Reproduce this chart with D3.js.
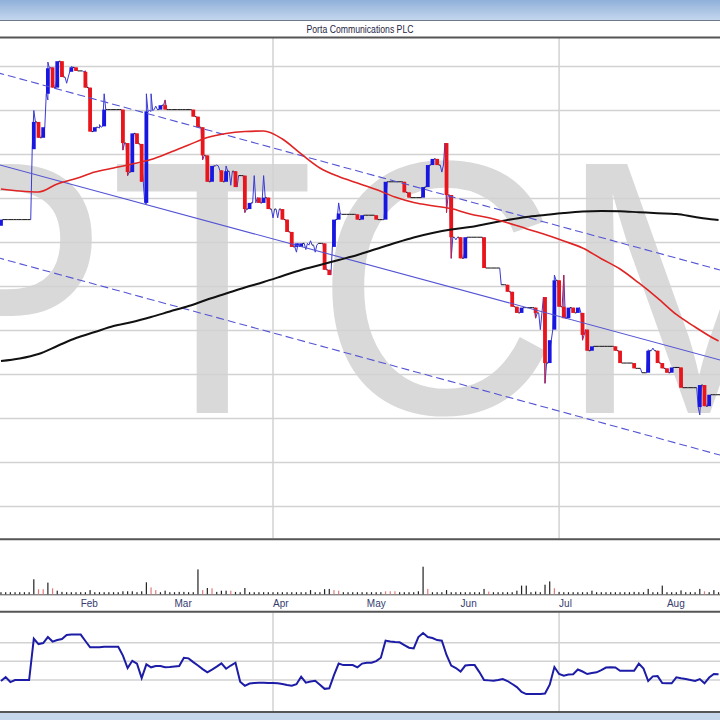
<!DOCTYPE html>
<html>
<head>
<meta charset="utf-8">
<title>Porta Communications PLC</title>
<script src="https://cdn.jsdelivr.net/npm/d3@7"></script>
<style>
  html, body { margin: 0; padding: 0; background: #fff; }
  svg { display: block; }
</style>
</head>
<body>
<div id="chart"></div>
<script>
// values: prices in pence, volume in millions, one entry per trading day
const title = 'Porta Communications PLC';
const ticker = 'PTCM';

const months = ['Feb', 'Mar', 'Apr', 'May', 'Jun', 'Jul', 'Aug'];
const monthStart = [17, 37, 58, 78, 98, 119, 142];
const quarterStart = [58, 119];

const open = [
  8.69, 8.76, 8.76, 8.76, 8.76, 8.76, 8.76, 9.56, 9.87, 9.69,
  10.19, 10.49, 10.26, 10.56, 10.38, 10.44, 10.49, 10.45, 10.44, 10.26,
  9.76, 9.81, 9.82, 10.01, 10.01, 10.01, 10.01, 9.63, 9.30, 9.74,
  9.62, 8.95, 10.00, 10.01, 10.01, 10.06, 10.01, 10.01, 10.01, 10.01,
  10.01, 10.01, 9.93, 9.81, 9.49, 9.19, 9.37, 9.32, 9.19, 9.31,
  9.31, 9.26, 9.26, 8.88, 8.95, 9.01, 8.95, 9.01, 8.88, 8.88,
  8.88, 8.76, 8.62, 8.45, 8.45, 8.49, 8.47, 8.47, 8.49, 8.49,
  8.19, 8.45, 8.76, 8.82, 8.82, 8.82, 8.82, 8.76, 8.81, 8.81,
  8.81, 8.76, 8.76, 9.19, 9.19, 9.19, 9.19, 9.07, 9.01, 9.01,
  9.01, 9.13, 9.38, 9.45, 9.38, 9.63, 9.04, 8.56, 8.56, 8.32,
  8.56, 8.56, 8.56, 8.56, 8.21, 8.21, 8.21, 8.02, 8.02, 7.94,
  7.77, 7.70, 7.76, 7.76, 7.76, 7.70, 7.88, 7.13, 7.51, 8.07,
  7.77, 7.64, 7.76, 7.70, 7.70, 7.51, 7.27, 7.32, 7.32, 7.32,
  7.32, 7.32, 7.27, 7.13, 7.13, 7.13, 7.07, 7.02, 7.02, 7.27,
  7.27, 7.13, 7.07, 7.02, 7.08, 7.08, 6.85, 6.85, 6.85, 6.63,
  6.88, 6.64, 6.77, 6.77
];
const high = [
  8.76, 8.76, 8.76, 8.76, 8.76, 8.76, 8.76, 10.00, 9.87, 9.81,
  10.55, 10.49, 10.56, 10.56, 10.38, 10.50, 10.49, 10.45, 10.45, 10.26,
  9.81, 9.84, 10.19, 10.01, 10.01, 10.01, 10.01, 9.63, 9.74, 9.74,
  9.62, 10.19, 10.19, 10.05, 10.06, 10.12, 10.01, 10.01, 10.01, 10.01,
  10.01, 10.01, 9.93, 9.81, 9.49, 9.37, 9.38, 9.32, 9.37, 9.31,
  9.31, 9.26, 9.26, 8.95, 9.26, 9.01, 9.26, 9.01, 8.88, 8.88,
  8.88, 8.76, 8.62, 8.49, 8.49, 8.49, 8.52, 8.47, 8.49, 8.49,
  8.19, 8.76, 8.95, 8.82, 8.82, 8.82, 8.82, 8.81, 8.81, 8.81,
  8.81, 8.76, 9.19, 9.19, 9.19, 9.19, 9.19, 9.07, 9.01, 9.01,
  9.13, 9.38, 9.45, 9.45, 9.38, 9.63, 9.04, 8.56, 8.56, 8.56,
  8.56, 8.56, 8.56, 8.56, 8.21, 8.21, 8.21, 8.02, 8.02, 7.94,
  7.77, 7.76, 7.76, 7.76, 7.76, 7.70, 7.88, 7.39, 8.13, 8.07,
  8.13, 7.76, 7.76, 7.76, 7.70, 7.51, 7.32, 7.32, 7.32, 7.32,
  7.32, 7.32, 7.27, 7.13, 7.13, 7.13, 7.07, 7.02, 7.28, 7.30,
  7.27, 7.13, 7.07, 7.08, 7.08, 7.08, 6.85, 6.85, 6.85, 6.88,
  6.88, 6.77, 6.77, 6.77
];
const low = [
  8.69, 8.76, 8.76, 8.76, 8.76, 8.76, 8.76, 9.56, 9.69, 9.69,
  10.12, 10.26, 10.26, 10.38, 10.31, 10.44, 10.45, 10.45, 10.26, 9.76,
  9.76, 9.80, 9.82, 10.01, 10.01, 10.01, 9.55, 9.26, 9.30, 9.62,
  9.19, 8.94, 9.99, 10.01, 10.01, 10.01, 10.01, 10.01, 10.01, 10.01,
  10.01, 9.93, 9.81, 9.44, 9.19, 9.19, 9.37, 9.19, 9.19, 9.15,
  9.13, 9.26, 8.84, 8.88, 8.95, 8.95, 8.95, 8.88, 8.78, 8.78,
  8.76, 8.62, 8.45, 8.39, 8.45, 8.42, 8.47, 8.39, 8.49, 8.19,
  8.13, 8.45, 8.76, 8.82, 8.82, 8.82, 8.76, 8.76, 8.81, 8.81,
  8.76, 8.76, 8.76, 9.19, 9.19, 9.19, 9.07, 9.01, 9.01, 9.01,
  9.01, 9.13, 9.38, 9.38, 9.30, 8.84, 8.32, 8.53, 8.32, 8.32,
  8.56, 8.56, 8.56, 8.21, 8.21, 8.21, 8.21, 8.02, 7.94, 7.77,
  7.70, 7.70, 7.76, 7.76, 7.64, 7.51, 6.90, 7.13, 7.51, 7.77,
  7.64, 7.64, 7.70, 7.70, 7.39, 7.27, 7.27, 7.32, 7.32, 7.32,
  7.32, 7.27, 7.13, 7.13, 7.13, 7.07, 7.07, 7.02, 7.02, 7.27,
  7.13, 7.07, 7.02, 7.02, 7.08, 6.85, 6.85, 6.85, 6.85, 6.54,
  6.64, 6.64, 6.77, 6.77
];
const close = [
  8.76, 8.76, 8.76, 8.76, 8.76, 8.76, 8.76, 9.87, 9.69, 9.81,
  10.48, 10.26, 10.56, 10.38, 10.38, 10.49, 10.45, 10.45, 10.26, 9.76,
  9.81, 9.81, 10.01, 10.01, 10.01, 10.01, 9.63, 9.30, 9.74, 9.62,
  9.19, 9.99, 10.00, 10.01, 10.06, 10.01, 10.01, 10.01, 10.01, 10.01,
  10.01, 9.93, 9.81, 9.49, 9.19, 9.37, 9.37, 9.19, 9.31, 9.31,
  9.13, 9.26, 8.88, 8.95, 8.95, 8.95, 9.01, 8.88, 8.88, 8.88,
  8.76, 8.62, 8.45, 8.49, 8.49, 8.49, 8.47, 8.47, 8.49, 8.19,
  8.13, 8.76, 8.83, 8.82, 8.82, 8.82, 8.76, 8.81, 8.81, 8.81,
  8.76, 8.76, 9.19, 9.19, 9.19, 9.19, 9.07, 9.01, 9.01, 9.01,
  9.13, 9.38, 9.45, 9.38, 9.38, 9.04, 8.56, 8.56, 8.32, 8.56,
  8.56, 8.56, 8.56, 8.21, 8.21, 8.21, 8.21, 8.02, 7.94, 7.77,
  7.70, 7.76, 7.76, 7.76, 7.70, 7.70, 7.13, 7.39, 8.07, 7.77,
  7.64, 7.76, 7.70, 7.76, 7.45, 7.27, 7.32, 7.32, 7.32, 7.32,
  7.32, 7.27, 7.13, 7.13, 7.13, 7.07, 7.07, 7.02, 7.27, 7.27,
  7.13, 7.07, 7.02, 7.08, 7.08, 6.85, 6.85, 6.85, 6.85, 6.88,
  6.64, 6.77, 6.77, 6.77
];

// moving averages, read at every 4th trading day
const maIdx = [0, 4, 8, 12, 16, 20, 24, 28, 32, 36, 40, 44, 48, 52, 56, 60, 64, 68, 72, 76,
  80, 84, 88, 92, 96, 100, 104, 108, 112, 116, 120, 124, 128, 132, 136, 140, 144, 148, 152, 153];
const ma50 = [9.108, 9.085, 9.074, 9.165, 9.227, 9.301, 9.347, 9.392, 9.443, 9.523,
  9.608, 9.693, 9.739, 9.761, 9.767, 9.676, 9.506, 9.347, 9.250, 9.176,
  9.102, 9.017, 8.955, 8.918, 8.886, 8.824, 8.782, 8.725, 8.657, 8.591,
  8.517, 8.438, 8.316, 8.199, 8.040, 7.869, 7.682, 7.540, 7.409, 7.381];
const ma200 = [7.153, 7.182, 7.233, 7.324, 7.415, 7.483, 7.551, 7.597, 7.653, 7.716,
  7.778, 7.852, 7.920, 7.989, 8.051, 8.119, 8.188, 8.244, 8.301, 8.358,
  8.426, 8.494, 8.557, 8.608, 8.648, 8.676, 8.716, 8.756, 8.790, 8.813,
  8.835, 8.852, 8.858, 8.855, 8.844, 8.833, 8.824, 8.790, 8.761, 8.756];

// trend channel end points
const channelIdx = [-1, 155];
const channelMid = [9.392, 7.141];
const channelUpper = [10.434, 8.163];
const channelLower = [8.332, 6.060];

const volume = [
  0.7, 0.7, 0.7, 0.7, 0.7, 0.7, 0.7, 5.0, 1.7, 1.7,
  3.9, 2.0, 1.2, 0.8, 0.7, 0.7, 0.7, 0.7, 0.7, 1.4,
  0.7, 0.7, 0.7, 0.7, 0.7, 0.7, 1.0, 1.0, 1.0, 0.7,
  1.0, 4.0, 2.3, 1.4, 0.7, 1.2, 0.7, 0.7, 0.8, 0.8,
  0.7, 0.7, 8.3, 1.4, 2.1, 2.0, 0.8, 1.2, 1.2, 1.2,
  0.8, 0.7, 2.1, 0.7, 0.7, 0.7, 0.7, 0.7, 0.7, 0.7,
  0.7, 0.7, 0.7, 0.7, 0.7, 0.7, 1.4, 0.7, 0.7, 1.7,
  1.8, 1.4, 1.2, 0.7, 0.7, 0.7, 0.7, 0.7, 0.7, 0.7,
  0.7, 0.7, 1.0, 1.0, 1.0, 0.7, 0.7, 0.7, 0.7, 1.0,
  9.2, 1.8, 0.7, 0.7, 0.7, 1.4, 0.7, 0.7, 0.7, 0.7,
  0.7, 0.7, 0.7, 1.8, 0.9, 0.7, 0.7, 0.7, 0.7, 0.7,
  1.2, 2.9, 2.9, 0.7, 0.9, 0.7, 3.2, 4.3, 2.0, 0.8,
  0.7, 0.7, 0.7, 0.7, 0.7, 0.7, 1.2, 0.7, 0.7, 0.7,
  0.7, 0.7, 0.7, 0.7, 0.7, 0.8, 0.7, 0.7, 1.8, 0.7,
  0.7, 2.9, 0.7, 0.7, 0.7, 1.3, 0.7, 0.7, 0.7, 1.8,
  1.0, 0.7, 1.4, 0.7
];
const sellDays = [8, 9, 11, 32, 33, 43, 45, 49, 71, 72, 82, 83, 84, 91, 104, 118, 150];

const rsi = [
  28.9, 33.2, 27.8, 30.0, 30.0, 30.0, 30.0, 74.4, 68.5, 69.6,
  76.0, 71.2, 72.8, 73.9, 78.2, 78.7, 78.9, 78.7, 71.8, 65.0,
  65.0, 65.0, 65.7, 65.7, 65.7, 65.7, 56.2, 42.8, 50.6, 47.6,
  32.1, 46.8, 43.6, 45.0, 45.0, 43.6, 43.9, 44.4, 45.0, 53.8,
  53.2, 49.2, 45.5, 41.7, 38.2, 41.2, 44.4, 47.9, 42.1, 45.5,
  48.5, 28.1, 23.8, 26.2, 26.7, 27.0, 27.1, 26.7, 26.7, 26.4,
  25.7, 24.6, 23.8, 25.5, 33.5, 27.1, 28.3, 29.2, 25.0, 20.5,
  21.1, 35.3, 47.6, 46.0, 46.0, 46.0, 43.6, 47.6, 48.5, 48.5,
  50.3, 53.9, 72.3, 71.2, 70.7, 70.4, 67.5, 64.6, 63.9, 76.0,
  80.3, 76.0, 75.0, 72.8, 72.1, 56.8, 45.5, 42.8, 39.1, 45.5,
  46.0, 46.0, 38.5, 30.0, 29.6, 29.2, 30.0, 31.0, 28.9, 25.7,
  22.4, 17.1, 14.9, 14.9, 14.9, 14.9, 15.5, 25.0, 43.9, 36.4,
  34.6, 35.8, 36.1, 41.2, 39.1, 36.4, 37.4, 38.2, 40.7, 43.4,
  43.6, 43.4, 39.9, 39.9, 39.9, 39.9, 47.6, 42.3, 28.9, 33.9,
  34.2, 26.7, 26.4, 26.4, 32.8, 31.8, 31.0, 30.0, 28.9, 31.0,
  26.4, 32.6, 36.4, 36.2
];
const rsiLevels = [30, 50, 70];

// ---- layout ----
const W = 720, H = 720;
const dayW = 4.69;
const mainTop = 38, mainBottom = 538.5;
const volTop = 540, volBottom = 611;
const rsiTop = 612.5, rsiBottom = 711;
const blue = '#1717e0', red = '#e8161c';

const days = d3.range(close.length);

const x = d3.scaleLinear()
  .domain([0, close.length - 1])
  .range([0.98, 0.98 + dayW * (close.length - 1)]);
const y = d3.scaleLinear().domain([5.5, 10.5]).range([506.5, 66.5]);
const yVol = d3.scaleLinear().domain([0, 10]).range([594.3, 564.3]);
const yRsi = d3.scaleLinear().domain([30, 70]).range([680, 642.7]);

const svg = d3.select('#chart')
  .append('svg')
  .attr('width', W)
  .attr('height', H)
  .style('font-family', '"Liberation Sans Narrow", "Arial Narrow", "Liberation Sans", Arial, sans-serif');

const defs = svg.append('defs');
const grad = defs.append('linearGradient')
  .attr('id', 'band')
  .attr('x1', 0).attr('y1', 0).attr('x2', 0).attr('y2', 1);
grad.append('stop').attr('offset', '0%').attr('stop-color', '#8fb0d9');
grad.append('stop').attr('offset', '100%').attr('stop-color', '#c4d6ed');

defs.append('clipPath').attr('id', 'clip-main')
  .append('rect').attr('x', 0).attr('y', mainTop).attr('width', W).attr('height', mainBottom - mainTop);
defs.append('clipPath').attr('id', 'clip-rsi')
  .append('rect').attr('x', 0).attr('y', rsiTop).attr('width', W).attr('height', rsiBottom - rsiTop);

// ---- frame ----
svg.append('rect').attr('width', W).attr('height', H).attr('fill', '#fff');
svg.append('rect').attr('x', 0).attr('y', 0).attr('width', W).attr('height', 20).attr('fill', 'url(#band)');
svg.append('line').attr('x1', 0).attr('x2', W).attr('y1', 20.5).attr('y2', 20.5)
  .attr('stroke', '#6d7888').attr('stroke-width', 1);

svg.append('text')
  .attr('x', W / 2)
  .attr('y', 32.5)
  .attr('text-anchor', 'middle')
  .attr('font-size', 10.5)
  .attr('fill', '#1f2444')
  .attr('textLength', 107)
  .attr('lengthAdjust', 'spacingAndGlyphs')
  .text(title);

// ---- main price panel ----
const main = svg.append('g').attr('clip-path', 'url(#clip-main)');

main.append('text')
  .attr('transform', 'scale(0.93,1)')
  .attr('x', -115 / 0.93)
  .attr('y', 413)
  .attr('font-family', '"Liberation Sans", Arial, sans-serif')
  .attr('font-size', 362)
  .attr('fill', '#d9d9d9')
  .text(ticker);

main.append('g')
  .selectAll('line')
  .data(y.ticks(10))
  .join('line')
  .attr('x1', 0).attr('x2', W)
  .attr('y1', d => y(d)).attr('y2', d => y(d))
  .attr('stroke', '#d2d2d2')
  .attr('stroke-width', 1.5);

main.append('g')
  .selectAll('line')
  .data(quarterStart)
  .join('line')
  .attr('x1', d => x(d)).attr('x2', d => x(d))
  .attr('y1', mainTop).attr('y2', mainBottom)
  .attr('stroke', '#d2d2d2')
  .attr('stroke-width', 1.5);

// thin price path: open -> extremes -> close for every day
const pts = [];
days.forEach(i => {
  const up = close[i] >= open[i];
  const ext = up ? [low[i], high[i]] : [high[i], low[i]];
  pts.push([x(i) - 1.6, y(open[i])]);
  ext.forEach(v => {
    if (v !== open[i] && v !== close[i]) pts.push([x(i), y(v)]);
  });
  pts.push([x(i) + 1.6, y(close[i])]);
});
const segs = d3.pairs(pts);
main.append('g')
  .selectAll('line')
  .data(segs)
  .join('line')
  .attr('x1', d => d[0][0]).attr('y1', d => d[0][1])
  .attr('x2', d => d[1][0]).attr('y2', d => d[1][1])
  .attr('stroke', d => Math.abs(d[0][1] - d[1][1]) < 0.3 ? '#111' : '#3a3ad2')
  .attr('stroke-width', 1);

// wicks of the down candles
main.append('g')
  .selectAll('line')
  .data(days.filter(i => close[i] < open[i]))
  .join('line')
  .attr('x1', i => x(i)).attr('x2', i => x(i))
  .attr('y1', i => y(high[i])).attr('y2', i => y(low[i]))
  .attr('stroke', red)
  .attr('stroke-width', 1);

// candle bodies
main.append('g')
  .selectAll('rect')
  .data(days.filter(i => close[i] !== open[i]))
  .join('rect')
  .attr('x', i => x(i) - 1.9)
  .attr('width', 3.8)
  .attr('y', i => y(Math.max(open[i], close[i])))
  .attr('height', i => Math.max(1, Math.abs(y(open[i]) - y(close[i]))))
  .attr('fill', i => close[i] > open[i] ? blue : red);

// trend channel
const channel = [
  { v: channelUpper, dash: '8,4' },
  { v: channelMid, dash: null },
  { v: channelLower, dash: '8,4' }
];
main.append('g')
  .selectAll('line')
  .data(channel)
  .join('line')
  .attr('x1', x(channelIdx[0])).attr('x2', x(channelIdx[1]))
  .attr('y1', d => y(d.v[0])).attr('y2', d => y(d.v[1]))
  .attr('stroke', '#5454d4')
  .attr('stroke-width', 1.1)
  .attr('stroke-dasharray', d => d.dash);

// moving averages
const maLine = vals => d3.line()
  .x((d, k) => x(maIdx[k]))
  .y(d => y(d))
  .curve(d3.curveMonotoneX)(vals);

main.append('path')
  .attr('d', maLine(ma200))
  .attr('fill', 'none')
  .attr('stroke', '#111')
  .attr('stroke-width', 2);

main.append('path')
  .attr('d', maLine(ma50))
  .attr('fill', 'none')
  .attr('stroke', '#e02424')
  .attr('stroke-width', 1.6);

// ---- volume panel ----
const vol = svg.append('g');
vol.append('line')
  .attr('x1', 0).attr('x2', W)
  .attr('y1', yVol(0) + 0.5).attr('y2', yVol(0) + 0.5)
  .attr('stroke', '#555')
  .attr('stroke-width', 1);

vol.append('g')
  .selectAll('rect')
  .data(days)
  .join('rect')
  .attr('x', i => x(i) - 0.6)
  .attr('width', 1.2)
  .attr('y', i => yVol(volume[i]))
  .attr('height', i => yVol(0) - yVol(volume[i]))
  .attr('fill', i => sellDays.includes(i) ? '#e07a7a' : '#222');

vol.append('g')
  .selectAll('text')
  .data(months)
  .join('text')
  .attr('x', (d, k) => x(monthStart[k]))
  .attr('y', 606.5)
  .attr('font-size', 10)
  .attr('fill', '#363c6e')
  .text(d => d);

// ---- RSI panel ----
const osc = svg.append('g').attr('clip-path', 'url(#clip-rsi)');
osc.append('g')
  .selectAll('line')
  .data(rsiLevels)
  .join('line')
  .attr('x1', 0).attr('x2', W)
  .attr('y1', d => yRsi(d)).attr('y2', d => yRsi(d))
  .attr('stroke', '#d2d2d2')
  .attr('stroke-width', 1.5);

osc.append('g')
  .selectAll('line')
  .data(quarterStart)
  .join('line')
  .attr('x1', d => x(d)).attr('x2', d => x(d))
  .attr('y1', rsiTop).attr('y2', rsiBottom)
  .attr('stroke', '#d2d2d2')
  .attr('stroke-width', 1.5);

osc.append('path')
  .attr('d', d3.line().x((d, i) => x(i)).y(d => yRsi(d))(rsi))
  .attr('fill', 'none')
  .attr('stroke', '#1c1ca6')
  .attr('stroke-width', 2);

// ---- separators and bottom band ----
const seps = [37.5, 539.3, 611.7, 712];
svg.append('g')
  .selectAll('line')
  .data(seps)
  .join('line')
  .attr('x1', 0).attr('x2', W)
  .attr('y1', d => d).attr('y2', d => d)
  .attr('stroke', '#555')
  .attr('stroke-width', 2);

svg.append('rect')
  .attr('x', 0).attr('y', 713).attr('width', W).attr('height', 7)
  .attr('fill', '#c6d7ec');
</script>
</body>
</html>
